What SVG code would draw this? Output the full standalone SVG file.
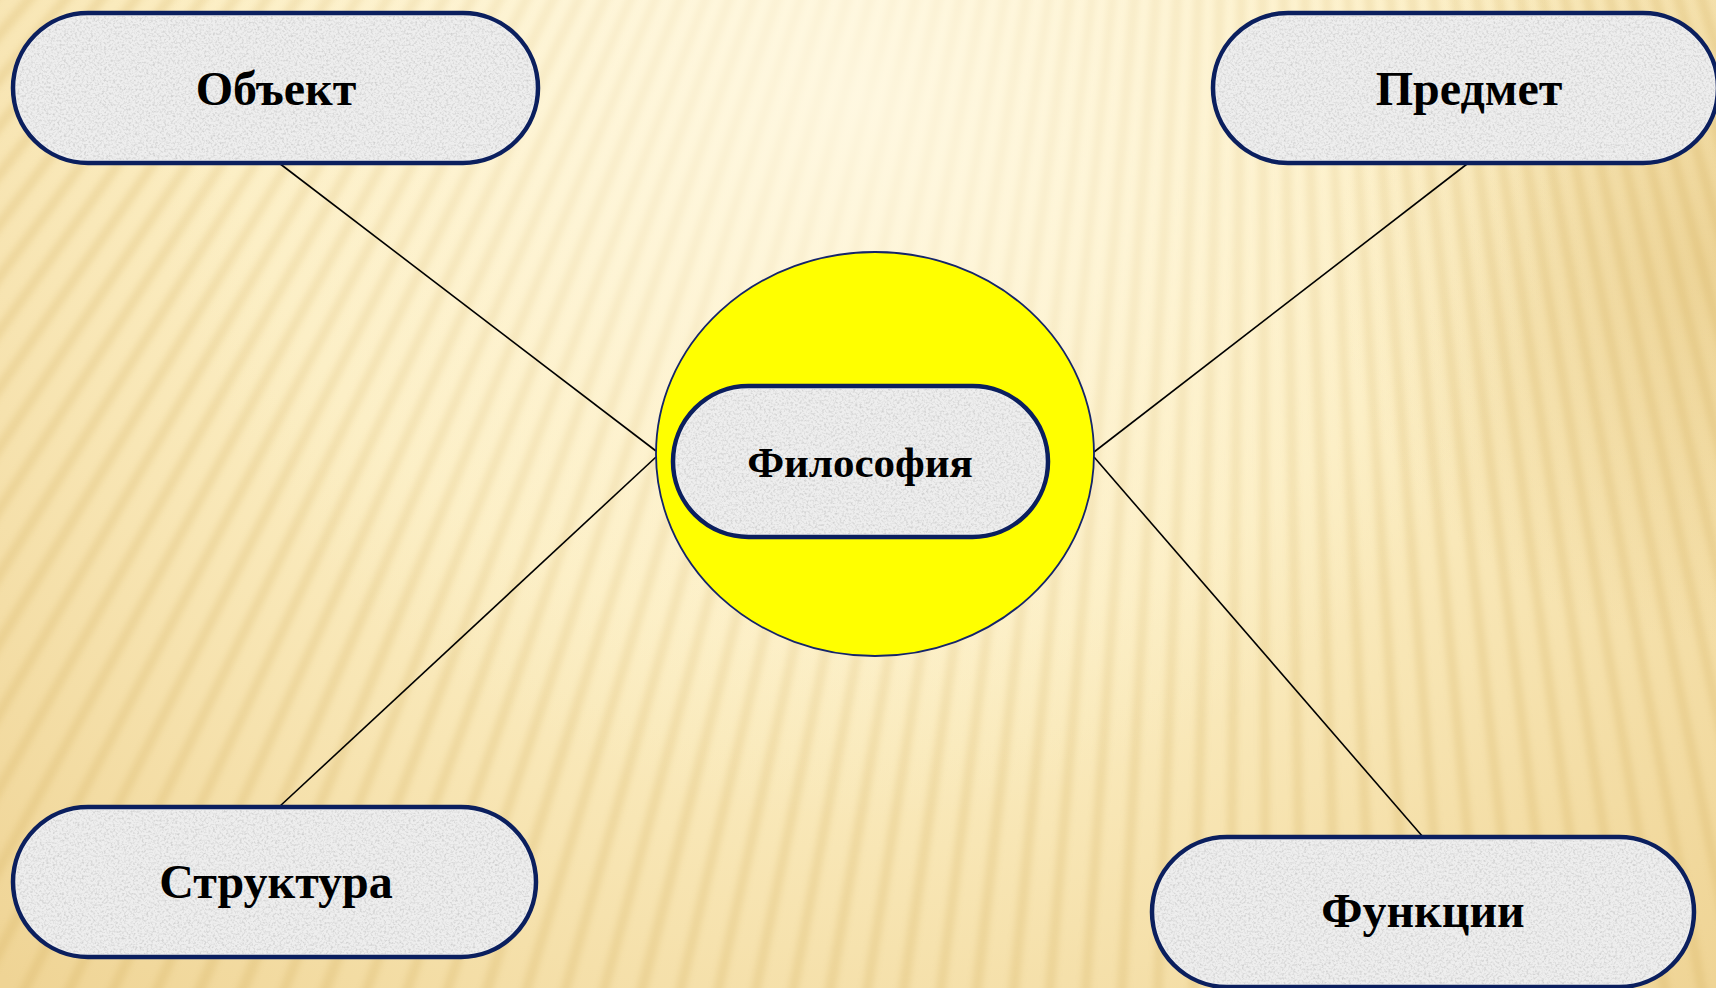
<svg xmlns="http://www.w3.org/2000/svg" width="1716" height="988" viewBox="0 0 1716 988">
<defs>
<radialGradient id="bg" cx="860" cy="0" r="1300" gradientUnits="userSpaceOnUse">
<stop offset="0" stop-color="#FEF7DC"/>
<stop offset="0.5" stop-color="#FCEEC3"/>
<stop offset="1" stop-color="#EFD495"/>
</radialGradient>
<radialGradient id="fade" cx="860" cy="100" r="720" gradientUnits="userSpaceOnUse">
<stop offset="0" stop-color="#FFF8E2" stop-opacity="0.85"/>
<stop offset="0.6" stop-color="#FFF6DA" stop-opacity="0.3"/>
<stop offset="1" stop-color="#FFF6DA" stop-opacity="0"/>
</radialGradient>
<radialGradient id="tr" cx="1716" cy="260" r="380" gradientUnits="userSpaceOnUse">
<stop offset="0" stop-color="#E2C27A" stop-opacity="0.5"/>
<stop offset="1" stop-color="#E2C27A" stop-opacity="0"/>
</radialGradient>
<filter id="soft" filterUnits="userSpaceOnUse" x="0" y="0" width="1716" height="988">
<feGaussianBlur stdDeviation="3"/>
</filter>
<filter id="tex" x="0" y="0" width="100%" height="100%">
<feTurbulence type="fractalNoise" baseFrequency="0.45" numOctaves="2" seed="7" result="n"/>
<feColorMatrix in="n" type="matrix" values="0 0 0 0 0.62  0 0 0 0 0.62  0 0 0 0 0.62  2.4 0 0 0 -1.05" result="g"/>
<feComposite in="g" in2="SourceGraphic" operator="in"/>
</filter>
<style>
.pill{fill:#EEEEEE;stroke:#0B1F5E;stroke-width:4.5}
.noise{fill:#000;stroke:none}
.lbl{font-family:"Liberation Serif","Times New Roman",serif;font-weight:bold;font-size:48px;fill:#000;text-anchor:middle}
.lbl.c{font-size:43px}
.conn{stroke:#000;stroke-width:1.6;fill:none}
</style>
</defs>

<g id="background">
<rect width="1716" height="988" fill="url(#bg)"/>
<rect width="1716" height="988" fill="url(#tr)"/>
<circle cx="1257" cy="-1444" r="2100" fill="none" stroke="#C9A24A" stroke-width="1400" stroke-dasharray="10 21" opacity="0.2" filter="url(#soft)"/>
<rect width="1716" height="988" fill="url(#fade)"/>
</g>

<g id="connectors">
<line class="conn" x1="279" y1="163" x2="656" y2="451"/>
<line class="conn" x1="279" y1="807" x2="656" y2="457"/>
<line class="conn" x1="1467" y1="164" x2="1094" y2="452"/>
<line class="conn" x1="1423" y1="837" x2="1094" y2="457"/>
</g>

<g id="node-center">
<ellipse cx="875" cy="454" rx="219" ry="202" fill="#FFFF00" stroke="#14246A" stroke-width="1.8"/>
<rect class="pill" x="673" y="386" width="375" height="151" rx="75.5"/>
<rect class="noise" x="676" y="389" width="369" height="145" rx="72.5" filter="url(#tex)"/>
<text class="lbl c" x="860" y="477">Философия</text>
</g>

<g id="node-object">
<rect class="pill" x="13" y="13" width="525" height="150" rx="75"/>
<rect class="noise" x="16" y="16" width="519" height="144" rx="72" filter="url(#tex)"/>
<text class="lbl" x="276" y="105">Объект</text>
</g>

<g id="node-predmet">
<rect class="pill" x="1213" y="13" width="505" height="150" rx="75"/>
<rect class="noise" x="1216" y="16" width="499" height="144" rx="72" filter="url(#tex)"/>
<text class="lbl" x="1469" y="105">Предмет</text>
</g>

<g id="node-struktura">
<rect class="pill" x="13" y="807" width="523" height="150" rx="75"/>
<rect class="noise" x="16" y="810" width="517" height="144" rx="72" filter="url(#tex)"/>
<text class="lbl" x="276" y="898">Структура</text>
</g>

<g id="node-funktsii">
<rect class="pill" x="1152" y="837" width="542" height="150" rx="75"/>
<rect class="noise" x="1155" y="840" width="536" height="144" rx="72" filter="url(#tex)"/>
<text class="lbl" x="1423" y="927">Функции</text>
</g>
</svg>
